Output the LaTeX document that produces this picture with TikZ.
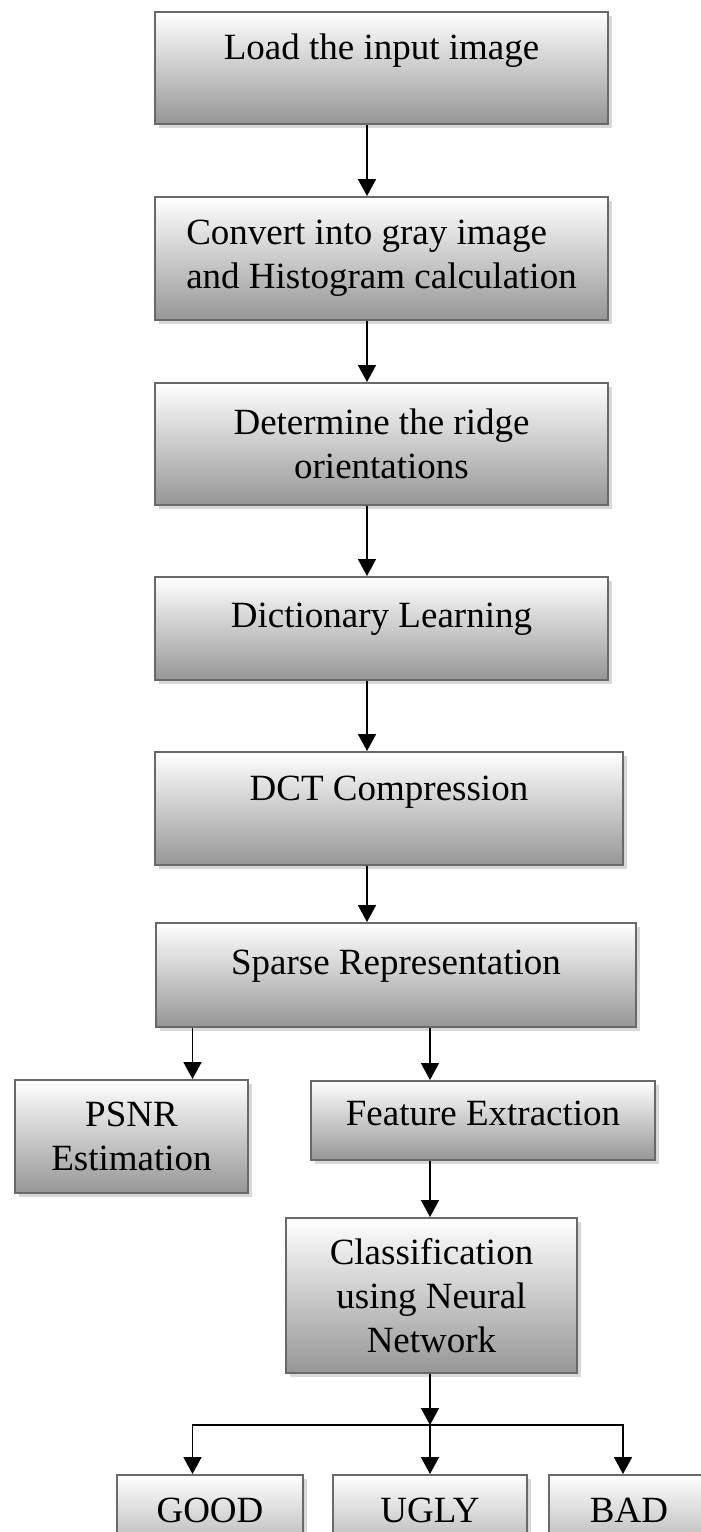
\documentclass[tikz,border=0pt]{standalone}
\usepackage{fontspec}
\setmainfont{Liberation Serif}
\usepackage{xcolor}
\usepackage{tikz}
\usetikzlibrary{arrows.meta}
\usetikzlibrary{shadows}
\definecolor{boxedge}{RGB}{105,105,105}
\definecolor{boxshade}{RGB}{150,150,150}

\begin{document}
\begin{tikzpicture}[
  stepbox/.style={shape=rectangle, draw=boxedge, line width=1pt, top color=white, bottom color=boxshade,
    drop shadow={shadow xshift=2pt, shadow yshift=-2pt, fill=black!30, opacity=0.5},
    font=\fontsize{18.5pt}{22pt}\selectfont, align=center},
  lift/.style={text height=12pt, text depth=#1},
  flow/.style={->, >={Triangle[width=9pt,length=8.5pt]}, line width=0.9pt, draw=black}
]
\useasboundingbox (0pt,0pt) rectangle (350.5pt,-766pt);
\coordinate (spine) at (183.5pt,0pt);
\coordinate (lcol) at (96.25pt,0pt);
\coordinate (rcol) at (311.5pt,0pt);
\coordinate (fork) at (215pt,-712.5pt);

\node[stepbox, lift=21pt, minimum width=226.5pt, minimum height=56pt] (load) at (190.75pt,-34pt) {Load the input image};
\node[stepbox, align=left, minimum width=226.5pt, minimum height=61.5pt] (gray) at (190.75pt,-129.25pt) {Convert into gray image\\and Histogram calculation};
\node[stepbox, minimum width=226.5pt, minimum height=61pt] (ridge) at (190.75pt,-222pt) {Determine the ridge\\orientations};
\node[stepbox, lift=13.5pt, minimum width=226.5pt, minimum height=51.5pt] (dict) at (190.75pt,-314.25pt) {Dictionary Learning};
\node[stepbox, lift=20.5pt, minimum width=234pt, minimum height=56.5pt] (dct) at (194.5pt,-404.25pt) {DCT Compression};
\node[stepbox, lift=13pt, minimum width=240pt, minimum height=52pt] (sparse) at (198pt,-487.5pt) {Sparse Representation};
\node[stepbox, minimum width=116.5pt, minimum height=56.5pt] (psnr) at (65.75pt,-568.25pt) {PSNR\\Estimation};
\node[stepbox, lift=7.5pt, minimum width=172pt, minimum height=39.5pt] (feat) at (241.5pt,-560.25pt) {Feature Extraction};
\node[stepbox, minimum width=145.5pt, minimum height=77.5pt] (class) at (215.75pt,-647.75pt) {Classification\\using Neural\\Network};
\node[stepbox, lift=17.5pt, minimum width=93pt, minimum height=52.5pt] (good) at (105pt,-763.75pt) {GOOD};
\node[stepbox, lift=17.5pt, minimum width=97pt, minimum height=52.5pt] (ugly) at (215pt,-763.75pt) {UGLY};
\node[stepbox, lift=17.5pt, minimum width=80pt, minimum height=52.5pt] (bad) at (314.5pt,-763.75pt) {BAD};

\foreach \a/\b in {load/gray, gray/ridge, ridge/dict, dict/dct, dct/sparse}
  \draw[flow] (\a.south -| spine) -- (\b.north -| spine);
\draw[flow] (sparse.south -| lcol) -- (psnr.north -| lcol);
\draw[flow] (sparse.south -| fork) -- (feat.north -| fork);
\draw[flow] (feat.south -| fork) -- (class.north -| fork);
\draw[flow] (class.south -| fork) -- (fork);
\draw[flow] (fork) -| (good.north -| lcol);
\draw[flow] (fork) -- (ugly.north -| fork);
\draw[flow] (fork) -| (bad.north -| rcol);
\end{tikzpicture}
\end{document}
